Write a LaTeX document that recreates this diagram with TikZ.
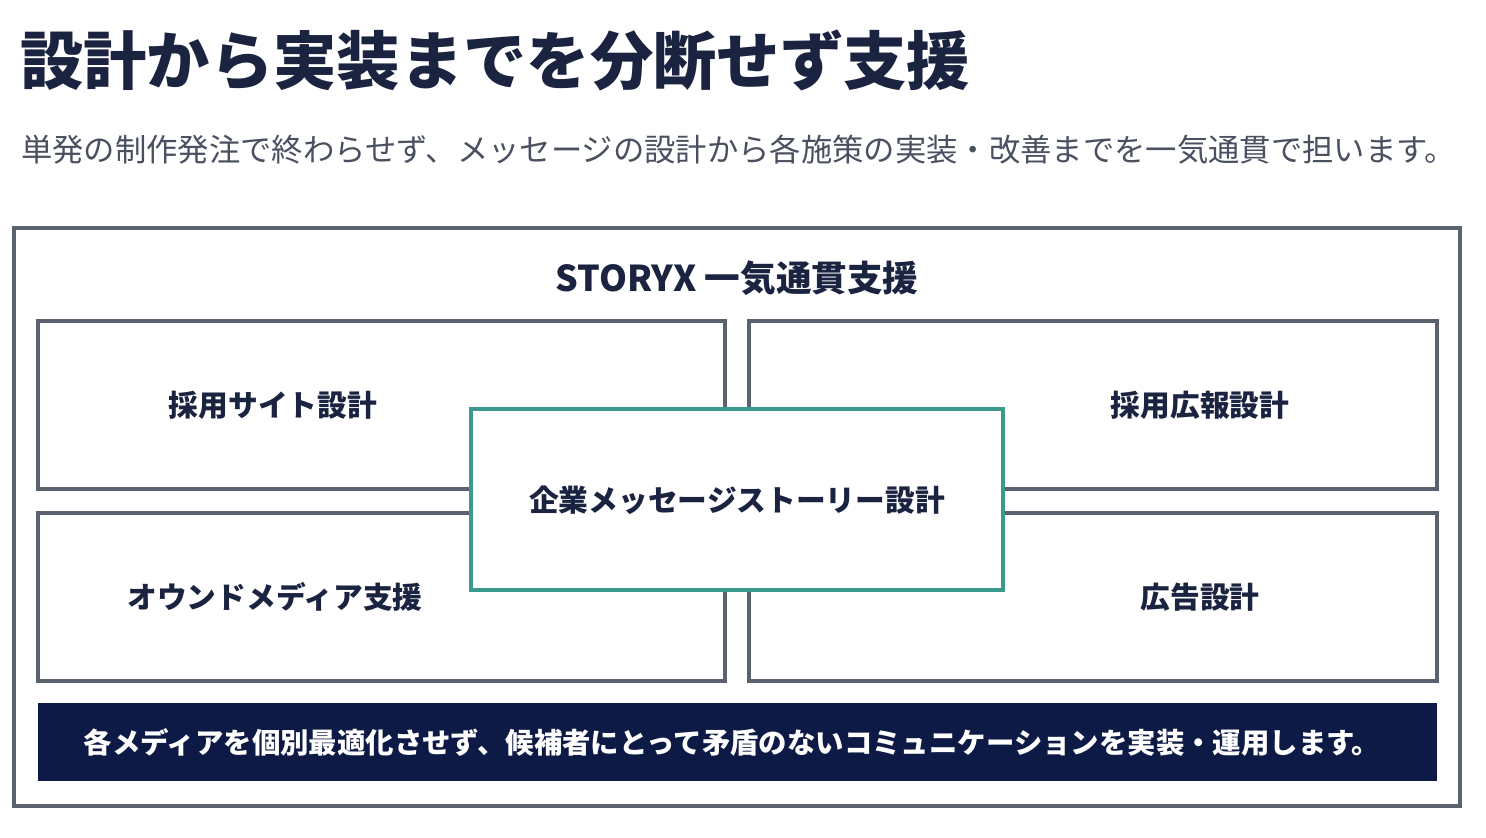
\documentclass[tikz,border=0pt]{standalone}
\usepackage{fontspec}
\setmainfont{Noto Sans CJK JP}
\definecolor{navy}{HTML}{1A2340}
\definecolor{barnavy}{HTML}{0D1A45}
\definecolor{boxgray}{HTML}{5A6270}
\definecolor{subgray}{HTML}{4A5060}
\definecolor{teal}{HTML}{3A9A8E}
\begin{document}
\begin{tikzpicture}[x=0.75pt,y=-0.75pt,
  graybox/.style={draw=boxgray,line width=2.3pt,fill=white},
  tealbox/.style={draw=teal,line width=2.3pt,fill=white},
  lbl/.style={font=\fontsize{22.3pt}{26pt}\selectfont\bfseries,text=navy,inner sep=0pt}]
\useasboundingbox[fill=white] (0,0) rectangle (1486,838);
\node[anchor=west,inner sep=0pt,text=navy,font=\fontsize{47.5pt}{54pt}\selectfont\bfseries] (title) at (20,60) {設計から実装までを分断せず支援};
\node[anchor=west,inner sep=0pt,text=subgray,font=\fontsize{23.5pt}{27pt}\selectfont] (sub) at (21,150) {単発の制作発注で終わらせず、メッセージの設計から各施策の実装・改善までを一気通貫で担います。};
\draw[graybox] (14,228) rectangle (1460,806);
\node[inner sep=0pt,text=navy,font=\fontsize{26.7pt}{30pt}\selectfont\bfseries] (head) at (737,278) {STORYX 一気通貫支援};
\draw[graybox] (38,321) rectangle (725,489);
\draw[graybox] (749,321) rectangle (1437,489);
\draw[graybox] (38,513) rectangle (725,681);
\draw[graybox] (749,513) rectangle (1437,681);
\draw[tealbox] (471,409) rectangle (1003,590);
\node[lbl] (a) at (273,405) {採用サイト設計};
\node[lbl] (b) at (1200,405) {採用広報設計};
\node[lbl] (c) at (275,597) {オウンドメディア支援};
\node[lbl] (d) at (1200,597) {広告設計};
\node[lbl] (e) at (737,500) {企業メッセージストーリー設計};
\fill[barnavy] (38,703) rectangle (1437,781);
\node[inner sep=0pt,text=white,font=\fontsize{21.3pt}{24pt}\selectfont\bfseries] (bar) at (732,742) {各メディアを個別最適化させず、候補者にとって矛盾のないコミュニケーションを実装・運用します。};
\end{tikzpicture}
\end{document}
